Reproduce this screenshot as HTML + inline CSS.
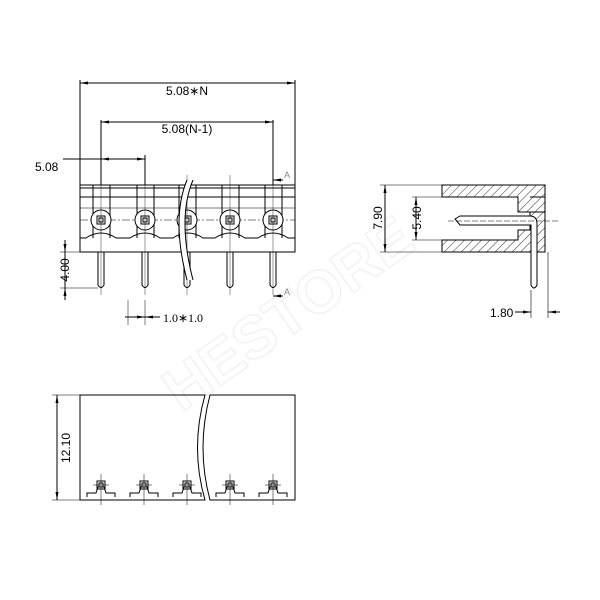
<!DOCTYPE html>
<html><head><style>html,body{margin:0;padding:0;background:#fff}svg{display:block}</style></head>
<body>
<svg width="600" height="600" viewBox="0 0 600 600" xmlns="http://www.w3.org/2000/svg" font-family="Liberation Sans, sans-serif">
<defs>
<marker id="ar" markerWidth="8" markerHeight="6" refX="8" refY="3" orient="auto-start-reverse" markerUnits="userSpaceOnUse"><path d="M0,1.5 L8,3 L0,4.5z" fill="#000"/></marker>
<pattern id="hat" width="6" height="6" patternUnits="userSpaceOnUse" patternTransform="rotate(45)"><line x1="0" y1="0" x2="0" y2="6" stroke="#000" stroke-width="0.8"/></pattern>
</defs>
<g opacity="0.05" fill="none" stroke="#000" stroke-width="1.5">
<text x="300" y="330" font-size="60" font-weight="bold" transform="rotate(-35 300 330)" text-anchor="middle" fill="none">HESTORE</text>
</g>
<g stroke="#000" stroke-width="1" fill="none">
<line x1="80" y1="80" x2="80" y2="185"/><line x1="295" y1="80" x2="295" y2="185"/>
<line x1="80" y1="83" x2="295" y2="83" marker-start="url(#ar)" marker-end="url(#ar)"/>
<line x1="101" y1="120" x2="101" y2="185"/><line x1="273" y1="120" x2="273" y2="185"/>
<line x1="101" y1="122" x2="273" y2="122" marker-start="url(#ar)" marker-end="url(#ar)"/>
<line x1="145" y1="155" x2="145" y2="185"/>
<line x1="63" y1="159" x2="101" y2="159"/>
<line x1="101" y1="159" x2="145" y2="159" marker-start="url(#ar)" marker-end="url(#ar)"/>
<path d="M80,185 H295 V252 H80 Z"/>
<line x1="80" y1="188" x2="295" y2="188"/>
<line x1="80" y1="197" x2="295" y2="197"/>
<line x1="80" y1="208" x2="295" y2="208" stroke-width="0.5"/>
<line x1="80" y1="220" x2="295" y2="220" stroke-dasharray="8,2,2,2" stroke-width="0.6"/>
<path d="M80,238 H86 Q101,228 116,238 H130 Q145,228 160,238 H173 Q188,228 203,238 H215 Q230,228 245,238 H258 Q273,228 288,238 H295"/>
</g>
<g stroke="#000" stroke-width="1" fill="none">
<g id="pin">
<line x1="93" y1="185" x2="93" y2="238"/><line x1="110" y1="185" x2="110" y2="238"/>
<circle cx="101" cy="220" r="10" fill="#fff"/>
<rect x="97" y="216" width="8" height="8"/><rect x="99" y="218" width="4" height="4"/>
<path d="M98,252 V285 Q101,290 104,285 V252"/>
<line x1="101" y1="175" x2="101" y2="295" stroke-width="0.4"/>
</g>
<use href="#pin" x="44"/><use href="#pin" x="86"/><use href="#pin" x="129"/><use href="#pin" x="172"/>
<path d="M190,180 Q174,218 190,280" stroke="#fff" stroke-width="5"/>
<path d="M187,180 Q171,218 187,280"/><path d="M193,180 Q177,218 193,280"/>
<line x1="60" y1="252" x2="80" y2="252" stroke-width="0.6"/><line x1="60" y1="288" x2="98" y2="288" stroke-width="0.6"/>
<line x1="65" y1="240" x2="65" y2="252" marker-end="url(#ar)"/><line x1="65" y1="300" x2="65" y2="288" marker-end="url(#ar)"/>
<line x1="65" y1="252" x2="65" y2="288"/>
<line x1="128" y1="300" x2="128" y2="325" stroke-width="0.5"/>
<line x1="145" y1="300" x2="145" y2="325" stroke-width="0.5"/>
<line x1="125" y1="317" x2="145" y2="317" marker-end="url(#ar)"/>
<line x1="160" y1="317" x2="145" y2="317" marker-end="url(#ar)"/>
<line x1="283" y1="180" x2="273" y2="180" marker-end="url(#ar)"/>
<line x1="283" y1="296" x2="273" y2="296" marker-end="url(#ar)"/>
</g>
<g font-size="12" fill="#000">
<text x="187" y="95" text-anchor="middle">5.08∗N</text>
<text x="187" y="133" text-anchor="middle">5.08(N-1)</text>
<text x="35" y="171">5.08</text>
<text x="163" y="322" font-family="Liberation Serif, serif">1.0∗1.0</text>
<text x="284" y="178" font-size="9" fill="#888">A</text>
<text x="284" y="295" font-size="9" fill="#888">A</text>
<text transform="translate(69,270) rotate(-90)" text-anchor="middle">4.00</text>
</g>
<g stroke="#000" stroke-width="1">
<path d="M442,185 H545 V252 H442 V240 H518 V230 H530 V212 H518 V197 H442 Z" fill="url(#hat)"/>
<path d="M530,197 H545" fill="none"/>
<path d="M530,212 H545" fill="none"/>
<path d="M455,219 L460,216 H530 Q537,216 537,224 V285 Q534,291 531,285 V225 H460 Z" fill="#fff"/>
<line x1="448" y1="221" x2="560" y2="221" stroke-width="0.5" stroke-dasharray="6,2"/>
<line x1="380" y1="185" x2="442" y2="185" stroke-width="0.6"/><line x1="380" y1="252" x2="442" y2="252" stroke-width="0.6"/>
<line x1="385" y1="185" x2="385" y2="252" marker-start="url(#ar)" marker-end="url(#ar)"/>
<line x1="412" y1="197" x2="442" y2="197" stroke-width="0.6"/><line x1="412" y1="240" x2="442" y2="240" stroke-width="0.6"/>
<line x1="416" y1="197" x2="416" y2="240" marker-start="url(#ar)" marker-end="url(#ar)"/>
<line x1="531" y1="290" x2="531" y2="318" stroke-width="0.6"/><line x1="548" y1="252" x2="548" y2="318" stroke-width="0.6"/>
<line x1="515" y1="312" x2="531" y2="312" marker-end="url(#ar)"/>
<line x1="560" y1="312" x2="548" y2="312" marker-end="url(#ar)"/>
</g>
<g font-size="12" fill="#000">
<text transform="translate(382,218) rotate(-90)" text-anchor="middle">7.90</text>
<text transform="translate(421,218) rotate(-90)" text-anchor="middle">5.40</text>
<text x="490" y="317">1.80</text>
</g>
<g stroke="#000" stroke-width="1" fill="none">
<path d="M80,395 H205 Q190,448 205,500 H80 Z"/>
<path d="M210,395 H295 V500 H210 Q196,448 210,395 Z"/>
<line x1="52" y1="395" x2="80" y2="395" stroke-width="0.6"/><line x1="52" y1="500" x2="80" y2="500" stroke-width="0.6"/>
<line x1="57" y1="395" x2="57" y2="500" marker-start="url(#ar)" marker-end="url(#ar)"/>
<g id="fp">
<path d="M87,497 V493 H96 L98,487 H104 L106,493 H115 V497"/>
<rect x="97" y="481" width="8" height="8"/><rect x="99" y="483" width="4" height="4"/>
<line x1="101" y1="474" x2="101" y2="505" stroke-width="0.5"/>
<line x1="93" y1="485" x2="109" y2="485" stroke-width="0.5"/>
</g>
<use href="#fp" x="43"/><use href="#fp" x="86"/><use href="#fp" x="129"/><use href="#fp" x="172"/>
</g>
<text transform="translate(70,448) rotate(-90)" text-anchor="middle" font-size="12">12.10</text>
</svg>
</body></html>
